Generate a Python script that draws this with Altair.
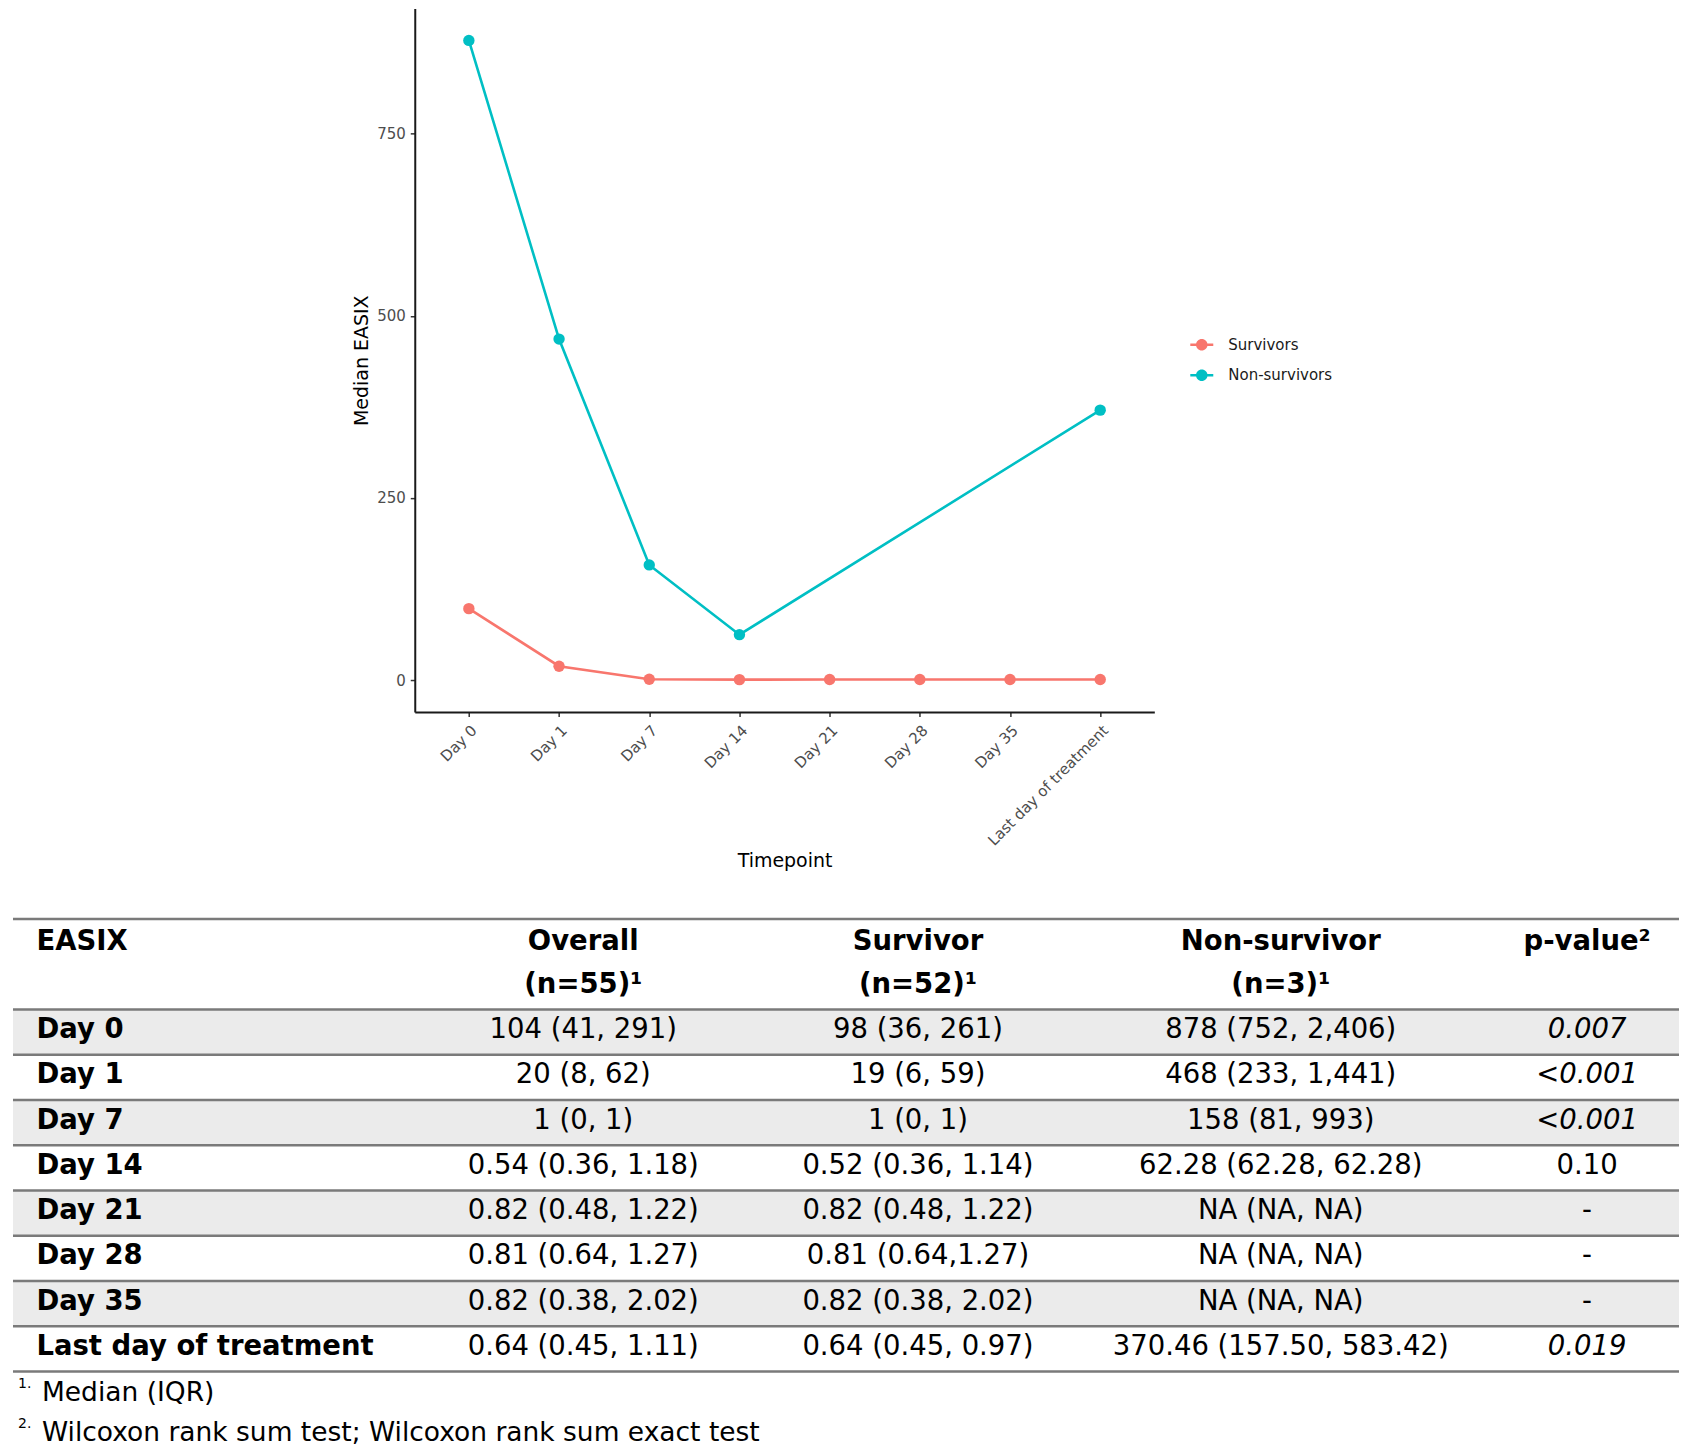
import altair as alt
import pandas as pd

# ---------------- data ----------------
timepoints = ["Day 0", "Day 1", "Day 7", "Day 14", "Day 21", "Day 28", "Day 35",
              "Last day of treatment"]
survivors = [98, 19, 1, 0.52, 0.82, 0.81, 0.82, 0.64]
non_survivors = [878, 468, 158, 62.28, None, None, None, 370.46]
groups = ["Survivors", "Non-survivors"]
colors = ["#F8766D", "#00BFC4"]

row_labels = ["Day 0", "Day 1", "Day 7", "Day 14", "Day 21", "Day 28", "Day 35",
              "Last day of treatment"]
overall = ["104 (41, 291)", "20 (8, 62)", "1 (0, 1)", "0.54 (0.36, 1.18)",
           "0.82 (0.48, 1.22)", "0.81 (0.64, 1.27)", "0.82 (0.38, 2.02)",
           "0.64 (0.45, 1.11)"]
survivor_col = ["98 (36, 261)", "19 (6, 59)", "1 (0, 1)", "0.52 (0.36, 1.14)",
                "0.82 (0.48, 1.22)", "0.81 (0.64,1.27)", "0.82 (0.38, 2.02)",
                "0.64 (0.45, 0.97)"]
nonsurvivor_col = ["878 (752, 2,406)", "468 (233, 1,441)", "158 (81, 993)",
                   "62.28 (62.28, 62.28)", "NA (NA, NA)", "NA (NA, NA)",
                   "NA (NA, NA)", "370.46 (157.50, 583.42)"]
p_values = ["0.007", "<0.001", "<0.001", "0.10", "-", "-", "-", "0.019"]
p_italic = [True, True, True, False, False, False, False, True]
header_top = ["EASIX", "Overall", "Survivor", "Non-survivor", "p-value²"]
header_bottom = ["", "(n=55)¹", "(n=52)¹", "(n=3)¹", ""]
shaded_rows = ["Day 0", "Day 7", "Day 21", "Day 35"]
footnote_marks = ["1.", "2."]
footnotes = ["Median (IQR)", "Wilcoxon rank sum test; Wilcoxon rank sum exact test"]

FONT = "DejaVu Sans"

# ---------------- line chart ----------------
recs = []
for i, t in enumerate(timepoints):
    recs.append({"time": t, "group": groups[0], "value": survivors[i], "idx": i})
    if non_survivors[i] is not None:
        recs.append({"time": t, "group": groups[1], "value": non_survivors[i], "idx": i})
line_df = pd.DataFrame(recs)

x_enc = alt.X("time:N",
              scale=alt.Scale(domain=timepoints, padding=0.6),
              axis=alt.Axis(title="Timepoint", labelAngle=-45, labelFontSize=15,
                            labelColor="#4d4d4d", labelFont=FONT, labelPadding=6,
                            tickColor="#333333", tickSize=4.5, tickWidth=1.5,
                            domainColor="#1a1a1a", domainWidth=2,
                            titleFontSize=19, titleFontWeight="normal",
                            titleColor="#000000", titleFont=FONT, titlePadding=3,
                            grid=False))
y_enc = alt.Y("value:Q",
              scale=alt.Scale(domain=[-43.9, 921.9], nice=False, zero=False),
              axis=alt.Axis(title="Median EASIX", values=[0, 250, 500, 750],
                            labelFontSize=15, labelColor="#4d4d4d", labelFont=FONT,
                            labelPadding=5, tickColor="#333333", tickSize=4.5,
                            tickWidth=1.5, domainColor="#1a1a1a", domainWidth=2,
                            titleFontSize=19, titleFontWeight="normal",
                            titleColor="#000000", titleFont=FONT, titlePadding=5,
                            grid=False))
color_scale = alt.Scale(domain=groups, range=colors)

legend_symbol = ("M-1,-0.115L1,-0.115L1,0.115L-1,0.115Z "
                 "M-0.5,0A0.5,0.5,0,1,1,0.5,0A0.5,0.5,0,1,1,-0.5,0Z")
legend = alt.Legend(title=None, orient="none", legendX=1178, legendY=325,
                    symbolType=legend_symbol, symbolSize=529,
                    symbolStrokeWidth=0, symbolFillColor="#888888",
                    labelFontSize=15, labelFont=FONT, labelColor="#1a1a1a",
                    labelOffset=15, rowPadding=10.5, padding=0)

lines = alt.Chart(line_df).mark_line(strokeWidth=2.6).encode(
    x=x_enc, y=y_enc,
    color=alt.Color("group:N", scale=color_scale, legend=legend),
    detail="group:N",
    order=alt.Order("idx:Q"),
)
points = alt.Chart(line_df).mark_circle(size=130, opacity=1).encode(
    x=x_enc, y=y_enc,
    color=alt.Color("group:N", scale=color_scale, legend=legend),
)
plot = alt.layer(lines, points).properties(width=740, height=704)

spacer = alt.Chart(pd.DataFrame({"s": [0]})).mark_point(opacity=0).encode(
    x=alt.value(100), y=alt.value(5)
).properties(width=339, height=10)

top = alt.hconcat(spacer, plot, spacing=0)

# ---------------- table ----------------
W = 1667
row_keys = ["h1", "h2"] + row_labels
ysc = alt.Scale(domain=row_keys, paddingInner=0, paddingOuter=0)
yenc = alt.Y("row:N", scale=ysc, axis=None)

col_x = [23.5, 570.6, 905.5, 1268.5, 1575]
body_cols = [row_labels, overall, survivor_col, nonsurvivor_col]


def text_layer(rows, texts, x, align, weight="normal", style="normal",
               size=27.5, dy=-2):
    df = pd.DataFrame({"row": rows, "text": texts})
    return alt.Chart(df).mark_text(
        align=align, baseline="middle", fontWeight=weight, fontStyle=style,
        fontSize=size, dy=dy, color="#000000", font=FONT
    ).encode(x=alt.value(x), y=yenc, text="text:N")


shade = alt.Chart(pd.DataFrame({"row": shaded_rows})).mark_rect(
    color="#ebebeb").encode(y=yenc, x=alt.value(0), x2=alt.value(W))
rules = alt.Chart(pd.DataFrame({"row": ["h1"] + row_labels})).mark_rule(
    color="#7a7a7a", strokeWidth=2.5).encode(
    y=alt.Y("row:N", scale=ysc, axis=None, bandPosition=0),
    x=alt.value(0), x2=alt.value(W))
bottom_rule = alt.Chart(pd.DataFrame({"row": [row_labels[-1]]})).mark_rule(
    color="#7a7a7a", strokeWidth=2.5).encode(
    y=alt.Y("row:N", scale=ysc, axis=None, bandPosition=1),
    x=alt.value(0), x2=alt.value(W))

layers = [shade, rules, bottom_rule]
# header
layers.append(text_layer(["h1"], [header_top[0]], col_x[0], "left", weight="bold", dy=0))
for c in range(1, 5):
    layers.append(text_layer(["h1"], [header_top[c]], col_x[c], "center",
                             weight="bold", dy=0))
    if header_bottom[c]:
        layers.append(text_layer(["h2"], [header_bottom[c]], col_x[c], "center",
                                 weight="bold"))
# body
layers.append(text_layer(row_labels, body_cols[0], col_x[0], "left", weight="bold"))
for c in range(1, 4):
    layers.append(text_layer(row_labels, body_cols[c], col_x[c], "center"))
it_rows = [r for r, f in zip(row_labels, p_italic) if f]
it_vals = [p for p, f in zip(p_values, p_italic) if f]
nm_rows = [r for r, f in zip(row_labels, p_italic) if not f]
nm_vals = [p for p, f in zip(p_values, p_italic) if not f]
layers.append(text_layer(it_rows, it_vals, col_x[4], "center", style="italic"))
layers.append(text_layer(nm_rows, nm_vals, col_x[4], "center"))

table = alt.layer(*layers).properties(width=W, height=453)

# ---------------- footnotes ----------------
fn_keys = ["1", "2"]
fsc = alt.Scale(domain=fn_keys, paddingInner=0, paddingOuter=0)
fn_layers = []
fn_dy = [3, 11]
for i, k in enumerate(fn_keys):
    df = pd.DataFrame({"k": [k], "mark": [footnote_marks[i]], "text": [footnotes[i]]})
    fn_layers.append(alt.Chart(df).mark_text(
        align="left", baseline="middle", fontSize=14, dy=fn_dy[i] - 9,
        color="#000000", font=FONT).encode(
        x=alt.value(5), y=alt.Y("k:N", scale=fsc, axis=None), text="mark:N"))
    fn_layers.append(alt.Chart(df).mark_text(
        align="left", baseline="middle", fontSize=26.5, dy=fn_dy[i],
        color="#000000", font=FONT).encode(
        x=alt.value(29), y=alt.Y("k:N", scale=fsc, axis=None), text="text:N"))
foot = alt.layer(*fn_layers).properties(width=W, height=64)

bottom = alt.vconcat(table, foot, spacing=0)

chart = alt.vconcat(top, bottom, spacing=46).properties(
    padding={"left": 3, "top": 0, "right": 0, "bottom": 0}
).configure(font=FONT).configure_view(strokeWidth=0, stroke="transparent")

chart.save("out.html", embed_options={"renderer": "svg", "actions": False})
